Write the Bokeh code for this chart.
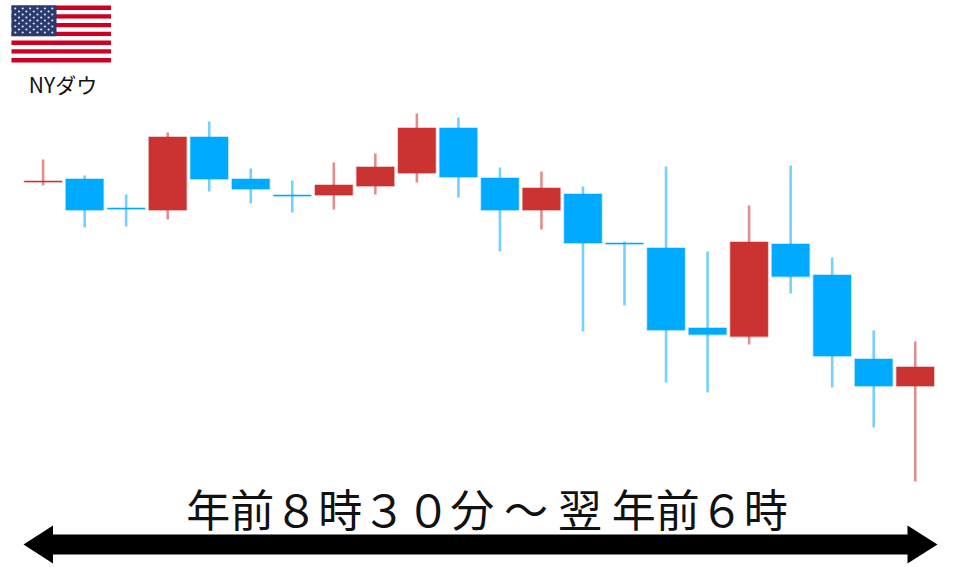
from bokeh.plotting import figure
from bokeh.models import ColumnDataSource, Range1d
from bokeh.core.properties import value
from bokeh.embed import file_html
from bokeh.resources import INLINE

W, H = 960, 567
# Candles on a pixel-like scale where a smaller number is higher
slots = list(range(22))
opens  = [182, 179, 208, 210, 137, 179, 195, 195, 186, 173, 128, 178, 210, 194, 243, 248, 328, 336.5, 244, 275, 359, 386]
closes = [181, 210, 209, 137, 179, 189, 196, 185, 167, 128, 177, 210, 188, 243, 244, 330, 334.5, 242, 276.5, 356, 386, 367]
highs  = [159, 175, 194, 132, 121, 168, 180, 162, 153, 113, 117, 167, 171, 186, 241, 166, 251, 205, 165, 257, 330, 341]
lows   = [185, 227, 226, 219, 191, 203, 212, 209, 194, 182, 197, 251, 229, 331, 305, 382, 392, 344, 293, 387, 427, 481]
RED, BLUE = "#cb3232", "#00aaff"

def cx(i):
    return 42.6 + 41.53 * i

p = figure(width=W, height=H, output_backend="svg", toolbar_location=None,
           x_range=Range1d(0, W), y_range=Range1d(H, 0), min_border=0,
           outline_line_color=None, background_fill_color="white", border_fill_color="white")
p.axis.visible = False
p.grid.visible = False

x = [cx(i) for i in slots]
col = [RED if c < o else BLUE for o, c in zip(opens, closes)]
top = [min(o, c) - 0.4 for o, c in zip(opens, closes)]
bot = [max(o, c) - 0.4 for o, c in zip(opens, closes)]
src = ColumnDataSource(dict(x=x, top=top, bot=bot, col=col, hi=highs, lo=lows,
                            left=[v - 18.8 for v in x], right=[v + 18.8 for v in x]))
p.segment("x", "hi", "x", "lo", source=src, line_color="col", line_width=2.6, line_alpha=0.55)
# soft halo round the bodies, then the solid body
p.quad(left="left", right="right", top="top", bottom="bot", source=src, fill_color="col",
       line_color="col", line_width=1.6, line_alpha=0.35)

# Flag
fx0, fx1, fy0, fy1 = 11, 110.5, 5, 62
sh = (fy1 - fy0) / 13
for k in range(13):
    p.quad(left=fx0, right=fx1, top=fy0 + k * sh, bottom=fy0 + (k + 1) * sh,
           fill_color="#cc0022" if k % 2 == 0 else "#ffffff", line_color=None)
p.quad(left=fx0, right=fx0 + 45, top=fy0, bottom=fy0 + 7 * sh, fill_color="#2b3a6e", line_color=None)
sx, sy = [], []
for r in range(9):
    n = 6 if r % 2 == 0 else 5
    for c in range(n):
        sx.append(fx0 + 3.8 + c * 7.4 + (0 if r % 2 == 0 else 3.7))
        sy.append(fy0 + 3 + r * 3.0)
p.scatter(sx, sy, size=2.2, color="#dfe3ee", line_color=None, marker="circle")

# Double arrow
p.patch(x=[23, 52.5, 52.5, 907, 907, 937, 907, 907, 52.5, 52.5],
        y=[544, 525, 534, 534, 525, 544, 563, 554, 554, 563], fill_color="black", line_color=None)

FONT = value("Noto Sans CJK JP")
p.text(x=[62.5], y=[83], text=["NYダウ"], text_font=FONT, text_font_size="21px", text_align="center",
       text_baseline="middle", text_color="#111111")
p.text(x=[486.5], y=[507], text=["年前８時３０分 ～ 翌 年前６時"], text_font=FONT, text_font_size="44px",
       text_align="center", text_baseline="middle", text_color="#111111")

open("out.html", "w").write(file_html(p, INLINE))
